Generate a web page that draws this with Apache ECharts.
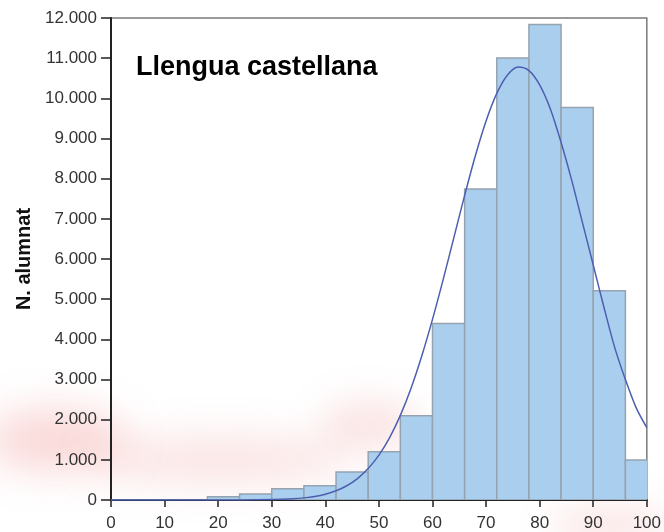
<!DOCTYPE html>
<html>
<head>
<meta charset="utf-8">
<script src="https://cdn.jsdelivr.net/npm/echarts@6/dist/echarts.min.js"></script>
<style>
html,body{margin:0;padding:0;background:#fff;}
#chart{width:664px;height:532px;}
</style>
</head>
<body>
<div id="chart"></div>
<script>
// ---- data ----
const binStarts = [0, 6, 12, 18, 24, 30, 36, 42, 48, 54, 60, 66, 72, 78, 84, 90, 96];
const binWidth = 6;
const counts = [0, 0, 0, 82, 150, 281, 356, 700, 1202, 2100, 4395, 7740, 11003, 11840, 9770, 5210, 995];
const curveX = [0, 24, 30, 34, 36, 38, 40, 42, 44, 46, 48, 50, 52, 54, 56, 58, 60, 62, 64, 66, 68, 70, 72, 74, 76, 78, 80, 82, 84, 86, 88, 90, 92, 94, 96, 98, 100];
const curveY = [0, 1, 10, 31, 53, 89, 145, 230, 355, 534, 782, 1117, 1555, 2108, 2785, 3585, 4496, 5492, 6538, 7583, 8570, 9436, 10122, 10580, 10779, 10690, 10335, 9735, 8900, 7950, 6900, 5850, 4800, 3800, 3000, 2300, 1800];
const xTicks = [0, 10, 20, 30, 40, 50, 60, 70, 80, 90, 100];
const yTicks = [0, 1000, 2000, 3000, 4000, 5000, 6000, 7000, 8000, 9000, 10000, 11000, 12000];
const titleText = 'Llengua castellana';
const yName = 'N. alumnat';

const font = '"Liberation Sans", Arial, sans-serif';
const chart = echarts.init(document.getElementById('chart'), null, {renderer: 'canvas'});

const barData = binStarts.map((s, i) => [s, s + binWidth, counts[i]]);
const lineData = curveX.map((x, i) => [x, curveY[i]]);

function fmt(v) {
  return String(v).replace(/\B(?=(\d{3})+(?!\d))/g, '.');
}

function blob(cx, cy, rx, ry, color, blur) {
  return {
    type: 'ellipse', silent: true, z: -10,
    shape: {cx: cx - 2000, cy: cy, rx: rx, ry: ry},
    style: {fill: '#000', shadowColor: color, shadowBlur: blur, shadowOffsetX: 2000, shadowOffsetY: 0}
  };
}

chart.setOption({
  animation: false,
  backgroundColor: '#fff',
  grid: {left: 111, right: 15, top: 18, bottom: 32, show: true, borderColor: '#7a7a7a', borderWidth: 1.5, backgroundColor: 'transparent'},
  graphic: [
    blob(55, 440, 70, 30, 'rgba(240,140,140,0.35)', 40),
    blob(220, 460, 130, 22, 'rgba(240,150,150,0.28)', 40),
    blob(370, 425, 50, 25, 'rgba(240,150,150,0.25)', 35),
    blob(610, 525, 60, 18, 'rgba(240,150,150,0.25)', 35),
    {
      type: 'text', left: 136, top: 54, z: 100,
      style: {text: titleText, font: 'bold 27px ' + font, fill: '#000'}
    }
  ],
  xAxis: {
    type: 'value', min: 0, max: 100, interval: 10,
    splitLine: {show: false},
    axisLine: {show: true, onZero: false, lineStyle: {color: '#222', width: 2}},
    axisTick: {show: true, length: 7, lineStyle: {color: '#222', width: 1.5}},
    axisLabel: {margin: 15, color: '#333', fontSize: 17, fontFamily: font,
      formatter: v => xTicks.indexOf(v) >= 0 ? String(v) : ''}
  },
  yAxis: {
    type: 'value', min: 0, max: 12000, interval: 1000,
    name: yName, nameLocation: 'middle', nameGap: 76,
    nameTextStyle: {fontSize: 20, fontWeight: 'bold', color: '#111', fontFamily: font},
    splitLine: {show: false},
    axisLine: {show: true, onZero: false, lineStyle: {color: '#222', width: 2}},
    axisTick: {show: true, length: 10, lineStyle: {color: '#222', width: 1.5}},
    axisLabel: {margin: 14, color: '#333', fontSize: 17, fontFamily: font,
      formatter: v => yTicks.indexOf(v) >= 0 ? fmt(v) : ''}
  },
  series: [
    {
      type: 'custom',
      clip: true,
      data: barData,
      encode: {x: [0, 1], y: 2},
      renderItem: function (params, api) {
        const p0 = api.coord([api.value(0), api.value(2)]);
        const p1 = api.coord([api.value(1), 0]);
        return {
          type: 'rect',
          shape: {x: p0[0], y: p0[1], width: p1[0] - p0[0], height: p1[1] - p0[1]},
          style: {fill: '#AACFEE', stroke: '#95a3b0', lineWidth: 1.5}
        };
      },
      z: 2
    },
    {
      type: 'line',
      data: lineData,
      smooth: 0.3,
      showSymbol: false,
      clip: true,
      lineStyle: {color: '#4d5fb0', width: 1.5},
      z: 3
    }
  ]
});
</script>
</body>
</html>
